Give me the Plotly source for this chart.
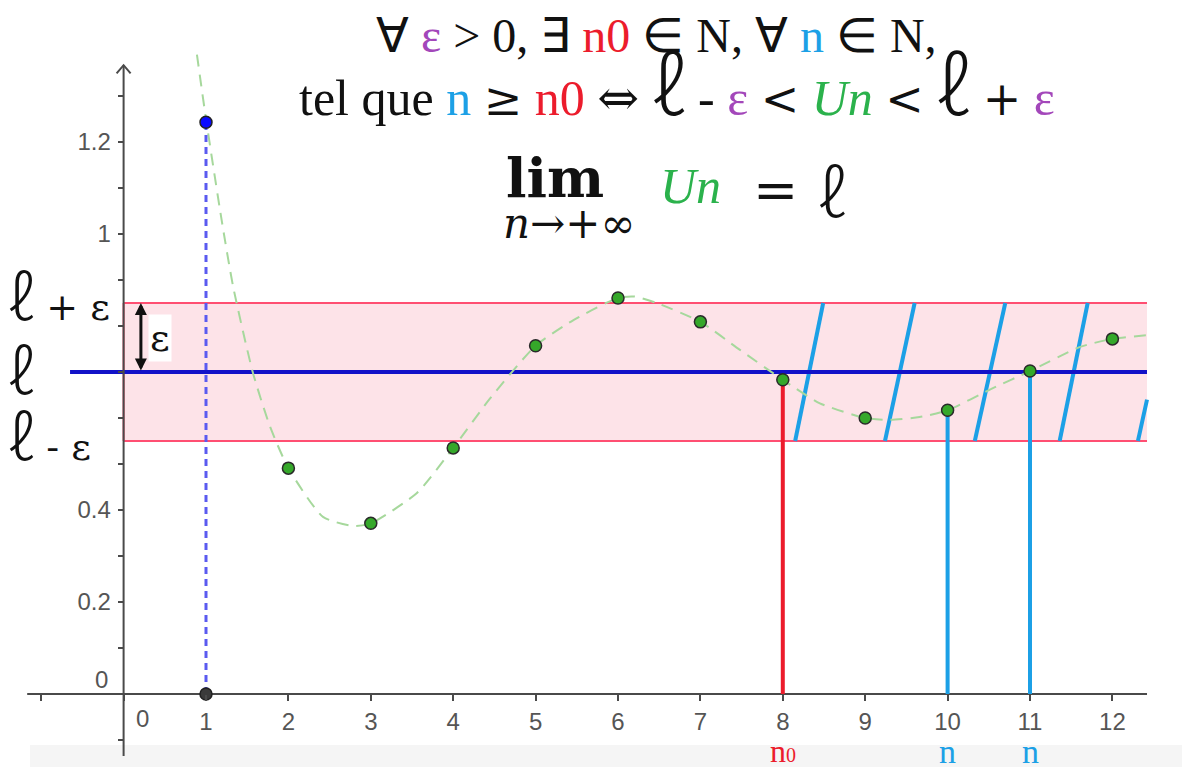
import plotly.graph_objects as go

# ---------------- data ----------------
n_idx = [1, 2, 3, 4, 5, 6, 7, 8, 9, 10, 11, 12]
u_vals = [1.243, 0.491, 0.371, 0.535, 0.757, 0.861, 0.809, 0.683, 0.600, 0.617, 0.702, 0.772]

curve_x = [0.89, 1.0, 1.19, 1.33, 1.57, 1.78, 2.0, 2.42, 2.79, 3.0, 3.56, 4.0, 4.45, 5.0, 5.46,
           6.0, 6.2, 6.47, 7.0, 7.48, 8.0, 8.45, 9.0, 9.3, 9.66, 10.0, 10.55, 11.0, 11.6, 12.0, 12.42]
curve_y = [1.39, 1.25, 1.03, 0.885, 0.698, 0.58, 0.491, 0.385, 0.365, 0.371, 0.437, 0.535, 0.643,
           0.757, 0.813, 0.861, 0.864, 0.85, 0.809, 0.748, 0.683, 0.632, 0.60, 0.596, 0.602, 0.617,
           0.665, 0.702, 0.754, 0.772, 0.78]

limit_l = 0.70
eps = 0.15
n0 = 8
n_examples = [10, 11]

hatch_x_bottom = [8.15, 9.24, 10.33, 11.36, 12.31]
hatch_x_top = [8.49, 9.60, 10.70, 11.70, 12.42]
hatch_y_top = [0.85, 0.85, 0.85, 0.85, 0.64]

x_tick_vals = [-1, 0, 1, 2, 3, 4, 5, 6, 7, 8, 9, 10, 11, 12]
x_tick_text = ["", "", "1", "2", "3", "4", "5", "6", "7", "8", "9", "10", "11", "12"]
y_tick_vals = [-0.1, 0.0, 0.1, 0.2, 0.3, 0.4, 0.5, 0.6, 0.7, 0.8, 0.9, 1.0, 1.1, 1.2, 1.3]
y_tick_text = ["", "", "", "0.2", "", "0.4", "", "", "", "", "", "1", "", "1.2", ""]

# page offset (browser body margin) compensation
OFF = 8
W, H = 1190, 767
X0_PX, X_SCALE = 123.6, 82.4   # screen pixel of x=0, px per unit
Y0_PX, Y_SCALE = 694.0, 460.0  # screen pixel of y=0, px per unit
X_RANGE = [(OFF - X0_PX) / X_SCALE, (OFF + W - X0_PX) / X_SCALE]
Y_RANGE = [(Y0_PX - OFF - H) / Y_SCALE, (Y0_PX - OFF) / Y_SCALE]

X_AXIS_END = [-1.17, 12.42]
Y_AXIS_END = [-0.135, 1.367]
BAND_X = [0.0, 12.42]
L_LINE_X0 = -0.65

C_EPS = "#a347ba"
C_N0 = "#ec1c2c"
C_N = "#1ca0e6"
C_UN = "#2bb24c"
C_AX = "#4a4a4a"

fig = go.Figure()

fig.add_trace(go.Scatter(x=curve_x, y=curve_y, mode="lines",
                         line=dict(color="#a6d89c", width=2, dash="12px,8px",
                                   shape="spline", smoothing=0.6),
                         hoverinfo="skip", showlegend=False))

fig.add_trace(go.Scatter(x=[n_idx[0], n_idx[0]], y=[0, u_vals[0]], mode="lines",
                         line=dict(color="#5a5af0", width=3, dash="7px,5px"),
                         showlegend=False))

fig.add_trace(go.Scatter(x=[n0, n0], y=[0, u_vals[n0 - 1]], mode="lines",
                         line=dict(color=C_N0, width=4), showlegend=False))
for nn in n_examples:
    fig.add_trace(go.Scatter(x=[nn, nn], y=[0, u_vals[nn - 1]], mode="lines",
                             line=dict(color=C_N, width=4), showlegend=False))

fig.add_trace(go.Scatter(x=n_idx[1:], y=u_vals[1:], mode="markers",
                         marker=dict(color="#35a82a", size=12, line=dict(color="#2a2a2a", width=1.5)),
                         showlegend=False))
fig.add_trace(go.Scatter(x=[n_idx[0]], y=[u_vals[0]], mode="markers",
                         marker=dict(color="#0a0aff", size=12, line=dict(color="#222", width=1.5)),
                         showlegend=False))
fig.add_trace(go.Scatter(x=[n_idx[0]], y=[0], mode="markers",
                         marker=dict(color="#3a3a3a", size=12, line=dict(color="#222", width=1.5)),
                         showlegend=False))


def sx(px):
    return (px - OFF) / W


def sy(py):
    return 1 - (py - OFF) / H


shapes = []
shapes.append(dict(type="rect", xref="paper", yref="paper", x0=sx(30), x1=1, y0=0, y1=sy(745),
                   fillcolor="#f5f5f5", line=dict(width=0), layer="below"))
shapes.append(dict(type="rect", xref="x", yref="y", x0=BAND_X[0], x1=BAND_X[1],
                   y0=limit_l - eps, y1=limit_l + eps, fillcolor="#fde3e8",
                   line=dict(width=0), layer="below"))
for yy in [limit_l - eps, limit_l + eps]:
    shapes.append(dict(type="line", xref="x", yref="y", x0=BAND_X[0], x1=BAND_X[1], y0=yy, y1=yy,
                       line=dict(color="#ff4f72", width=2), layer="below"))
shapes.append(dict(type="line", xref="x", yref="y", x0=BAND_X[0], x1=BAND_X[0],
                   y0=limit_l - eps, y1=limit_l + eps, line=dict(color="#ff4f72", width=2), layer="below"))
for xb, xt, yt in zip(hatch_x_bottom, hatch_x_top, hatch_y_top):
    shapes.append(dict(type="line", xref="x", yref="y", x0=xb, x1=xt, y0=limit_l - eps, y1=yt,
                       line=dict(color=C_N, width=4), layer="below"))
shapes.append(dict(type="line", xref="x", yref="y", x0=L_LINE_X0, x1=BAND_X[1], y0=limit_l, y1=limit_l,
                   line=dict(color="#1212c8", width=4), layer="below"))
shapes.append(dict(type="line", xref="x", yref="y", x0=X_AXIS_END[0], x1=X_AXIS_END[1], y0=0, y1=0,
                   line=dict(color=C_AX, width=2), layer="below"))
shapes.append(dict(type="line", xref="x", yref="y", x0=0, x1=0, y0=Y_AXIS_END[0], y1=Y_AXIS_END[1],
                   line=dict(color=C_AX, width=2), layer="below"))
shapes.append(dict(type="path", xref="x", yref="y",
                   path=f"M -0.085,{Y_AXIS_END[1]-0.018} L 0,{Y_AXIS_END[1]} L 0.085,{Y_AXIS_END[1]-0.018}",
                   line=dict(color=C_AX, width=2), layer="below"))

annotations = []
SERIF = "Liberation Serif"
ELL_FONT = "Noto Sans CJK JP"


def pa(x, y, text, size, color="#111", xanchor="center", yanchor="middle", family=SERIF):
    annotations.append(dict(xref="paper", yref="paper", x=sx(x), y=sy(y), text=text,
                            showarrow=False, xanchor=xanchor, yanchor=yanchor,
                            font=dict(family=family, size=size, color=color)))


def col(t, c):
    return f"<span style='color:{c}'>{t}</span>"


def ell(size):
    return f"<span style='font-family:{ELL_FONT};font-size:{size}px;font-weight:300'>ℓ</span>"


def sym(t, size):
    return f"<span style='font-family:DejaVu Serif;font-size:{size}px'>{t}</span>"


line1 = ("∀ " + col("ε", C_EPS) + " > 0, ∃ " + col("n0", C_N0) + " ∈ N, ∀ " + col("n", C_N) + " ∈ N,")
line2 = ("tel que " + col("n", C_N) + " " + sym("≥", 46) + " " + col("n0", C_N0) + " " + sym("⇔", 50) + " "
         + ell(80) + " - " + col("ε", C_EPS) + " " + sym("&lt;", 46) + " " + col("<i>Un</i>", C_UN) + " "
         + sym("&lt;", 46) + " " + ell(80) + " " + sym("+", 46) + " " + col("ε", C_EPS))
pa(657, 36, line1, 48)
pa(677, 80, line2, 50)

pa(555, 178, "<b>lim</b>", 54, family="DejaVu Serif")
pa(569, 224, "<i>n</i>→+∞", 42, family="DejaVu Serif")
pa(690, 186, "<i>Un</i>", 50, color=C_UN)
pa(775, 190, "=", 54, family="DejaVu Serif")
pa(832, 188, ell(66), 54)

side = "<span style='font-family:DejaVu Serif;font-size:38px'>{}</span>"
pa(6, 293, ell(62) + side.format(" + ε"), 38, xanchor="left")
pa(6, 367, ell(62), 38, xanchor="left")
pa(6, 433, ell(62) + side.format(" - ε"), 38, xanchor="left")

annotations.append(dict(xref="x", yref="y", axref="x", ayref="y", x=0.21, y=limit_l + eps,
                        ax=0.21, ay=limit_l, text="", showarrow=True, arrowside="end+start",
                        arrowhead=2, arrowsize=0.8, arrowwidth=3, arrowcolor="#111"))
annotations.append(dict(xref="x", yref="y", x=0.21, y=limit_l + eps / 2, xshift=7, text="ε",
                        showarrow=False, xanchor="left", bgcolor="white", borderpad=1,
                        font=dict(family="DejaVu Serif", size=38, color="#111")))

annotations.append(dict(xref="x", yref="y", x=0, y=0, xshift=-14, yshift=15, text="0",
                        showarrow=False, xanchor="right", yanchor="middle",
                        font=dict(family="Liberation Sans", size=24, color="#555")))
annotations.append(dict(xref="x", yref="y", x=0, y=0, xshift=10, yshift=-24, text="0",
                        showarrow=False, xanchor="left", yanchor="middle",
                        font=dict(family="Liberation Sans", size=24, color="#555")))

annotations.append(dict(xref="x", yref="y", x=n0, y=0, yshift=-57,
                        text="n<span style='font-size:20px'>0</span>",
                        showarrow=False, font=dict(family=SERIF, size=32, color=C_N0)))
for nn in n_examples:
    annotations.append(dict(xref="x", yref="y", x=nn, y=0, yshift=-57, text="n",
                            showarrow=False, font=dict(family=SERIF, size=34, color=C_N)))

x_pos = (0 - Y_RANGE[0]) / (Y_RANGE[1] - Y_RANGE[0])
y_pos = (0 - X_RANGE[0]) / (X_RANGE[1] - X_RANGE[0])

fig.update_layout(
    width=W, height=H, autosize=False,
    margin=dict(l=0, r=0, t=0, b=0),
    paper_bgcolor="white", plot_bgcolor="white",
    shapes=shapes, annotations=annotations,
    xaxis=dict(range=X_RANGE, anchor="free", position=x_pos, showgrid=False, zeroline=False,
               showline=False, ticks="outside", ticklen=6, tickwidth=1.5, tickcolor=C_AX,
               tickvals=x_tick_vals, ticktext=x_tick_text,
               tickfont=dict(family="Liberation Sans", size=24, color="#555")),
    yaxis=dict(range=Y_RANGE, anchor="free", position=y_pos, showgrid=False, zeroline=False,
               showline=False, ticks="outside", ticklen=6, tickwidth=1.5, tickcolor=C_AX,
               tickvals=y_tick_vals, ticktext=y_tick_text, ticklabelstandoff=2,
               tickfont=dict(family="Liberation Sans", size=24, color="#555")),
)

fig.write_html("out.html")
